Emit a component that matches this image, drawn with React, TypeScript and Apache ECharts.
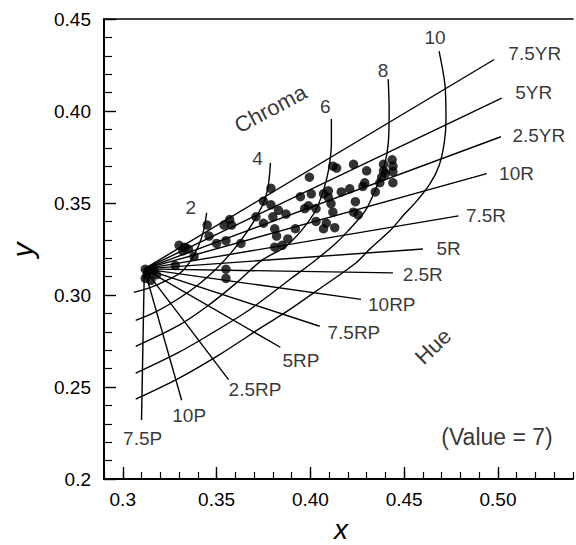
import React, { useEffect, useRef } from "react";
import * as echarts from "echarts";

const FONT = '"Liberation Sans", Arial, Helvetica, sans-serif';

// neutral (achromatic) point
const neutral: [number, number] = [0.3115, 0.3142];

// hue lines: name, outer end, label position
const hueNames = ["7.5YR", "5YR", "2.5YR", "10R", "7.5R", "5R", "2.5R", "10RP", "7.5RP", "5RP", "2.5RP", "10P", "7.5P"];
const hueEnds: [number, number][] = [
  [0.498, 0.428], [0.502, 0.407], [0.5016, 0.386], [0.494, 0.366], [0.479, 0.343],
  [0.46, 0.325], [0.444, 0.312], [0.427, 0.2976], [0.405, 0.283], [0.384, 0.2716],
  [0.3564, 0.254], [0.3314, 0.2428], [0.31, 0.232],
];
const hueLabelPos: [number, number][] = [
  [0.5196, 0.431], [0.5191, 0.4099], [0.5218, 0.3866], [0.5099, 0.3659], [0.4936, 0.3432],
  [0.4737, 0.3253], [0.4599, 0.3112], [0.4434, 0.2949], [0.4232, 0.2797], [0.395, 0.2645],
  [0.3705, 0.2488], [0.3354, 0.2347], [0.3106, 0.2222],
];

// chroma curves
const chromaNames = ["2", "4", "6", "8", "10"];
const chroma2: [number, number][] = [
  [0.3447, 0.3447], [0.3431, 0.335], [0.3404, 0.3268], [0.3362, 0.3187], [0.3309, 0.3122],
  [0.3234, 0.3079], [0.3149, 0.3041], [0.3059, 0.3014],
];
const chroma4: [number, number][] = [
  [0.3787, 0.3718], [0.3777, 0.3604], [0.3755, 0.3512], [0.3707, 0.3415], [0.3644, 0.3317],
  [0.3574, 0.3225], [0.35, 0.3144], [0.3404, 0.3057], [0.3298, 0.2981], [0.3181, 0.2911],
  [0.3069, 0.2862],
];
const chroma6: [number, number][] = [
  [0.4112, 0.3957], [0.4112, 0.3821], [0.4096, 0.3675], [0.4069, 0.3566], [0.4027, 0.3458],
  [0.3952, 0.335], [0.3867, 0.3263], [0.3739, 0.3187], [0.3601, 0.3062], [0.3441, 0.2932],
  [0.3298, 0.2835], [0.3069, 0.2721],
];
const chroma8: [number, number][] = [
  [0.4415, 0.4173], [0.442, 0.4], [0.4415, 0.3821], [0.4394, 0.3702], [0.4351, 0.3583],
  [0.4293, 0.3458], [0.4202, 0.335], [0.4133, 0.3279], [0.4005, 0.3171], [0.3883, 0.3079],
  [0.3793, 0.3008], [0.3654, 0.2905], [0.3473, 0.2791], [0.3298, 0.2688], [0.3069, 0.2575],
];
const chroma10: [number, number][] = [
  [0.4686, 0.4325], [0.4718, 0.4135], [0.4723, 0.3946], [0.4713, 0.3821], [0.4686, 0.3703],
  [0.4638, 0.3605], [0.4569, 0.3513], [0.4495, 0.3432], [0.4431, 0.3356], [0.4319, 0.3252],
  [0.4239, 0.3171], [0.4059, 0.3041], [0.3883, 0.2916], [0.3739, 0.2824], [0.3527, 0.2683],
  [0.3298, 0.2547], [0.3069, 0.2434],
];
const chromaCurves = [chroma2, chroma4, chroma6, chroma8, chroma10];
const chromaLabelPos: [number, number][] = [
  [0.3362, 0.3475], [0.3718, 0.3741], [0.408, 0.4023], [0.4388, 0.4218], [0.4665, 0.4397],
];

// measured samples
const samples: [number, number][] = [
  [0.312, 0.314], [0.314, 0.313], [0.313, 0.311], [0.3165, 0.3133], [0.312, 0.309], [0.315, 0.308], [0.318, 0.311],
  [0.33, 0.327], [0.333, 0.326], [0.332, 0.324], [0.335, 0.325], [0.338, 0.321], [0.328, 0.316],
  [0.345, 0.338], [0.346, 0.332], [0.354, 0.338], [0.357, 0.341], [0.358, 0.338], [0.35, 0.328],
  [0.355, 0.3295], [0.363, 0.328], [0.355, 0.314], [0.355, 0.309],
  [0.379, 0.358], [0.375, 0.351], [0.379, 0.349], [0.383, 0.346], [0.387, 0.344], [0.371, 0.3425],
  [0.38, 0.3425], [0.375, 0.339], [0.381, 0.336], [0.382, 0.332], [0.388, 0.3305], [0.392, 0.336],
  [0.381, 0.326], [0.385, 0.327],
  [0.3995, 0.364], [0.412, 0.37], [0.414, 0.369], [0.423, 0.371], [0.43, 0.3675], [0.429, 0.361],
  [0.428, 0.359], [0.3947, 0.3534], [0.4005, 0.355], [0.399, 0.3485], [0.403, 0.347], [0.397, 0.347],
  [0.403, 0.34], [0.4085, 0.339], [0.407, 0.336], [0.413, 0.3366], [0.4096, 0.3566], [0.407, 0.355],
  [0.4096, 0.353], [0.411, 0.3496], [0.412, 0.345], [0.4165, 0.356], [0.421, 0.3577], [0.424, 0.3507],
  [0.423, 0.345], [0.4255, 0.3436],
  [0.439, 0.371], [0.4436, 0.3735], [0.444, 0.37], [0.439, 0.3675], [0.44, 0.366], [0.444, 0.367],
  [0.438, 0.364], [0.437, 0.361], [0.444, 0.361], [0.4346, 0.356],
];

// annotations
const annotations = [
  { text: "Chroma", pos: [0.3787, 0.4012], rotate: 28, size: 22 },
  { text: "Hue", pos: [0.4654, 0.2721], rotate: 44, size: 22 },
  { text: "(Value = 7)", pos: [0.4995, 0.2228], rotate: 0, size: 23 },
];

const xMajorLabels: Record<number, string> = { 30: "0.3", 35: "0.35", 40: "0.40", 45: "0.45", 50: "0.50" };
const xMajorTicks = [0.3, 0.35, 0.4, 0.45, 0.5];

export default function App() {
  const ref = useRef<HTMLDivElement>(null);
  useEffect(() => {
    const chart = echarts.init(ref.current!, null, { renderer: "svg" });
    const black = "#000";
    const lineStyle = { color: black, width: 1.4 };
    const series: any[] = [];
    hueEnds.forEach((end, i) => {
      series.push({
        type: "line", name: hueNames[i], data: [neutral, end], symbol: "none",
        lineStyle, silent: true, z: 2,
      });
    });
    chromaCurves.forEach((c, i) => {
      series.push({
        type: "line", name: "C" + chromaNames[i], data: c, symbol: "none", smooth: 0.3,
        lineStyle, silent: true, z: 2,
      });
    });
    series.push({
      type: "scatter", name: "samples", data: samples, symbol: "circle", symbolSize: 9.5,
      itemStyle: { color: black }, silent: true, z: 3,
    });
    const labelSeries = (data: any[], fontSize: number) => ({
      type: "scatter", data, symbolSize: 0, silent: true, z: 4,
      label: {
        show: true, position: "inside", formatter: (p: any) => p.data.name,
        color: black, fontFamily: FONT, fontSize,
      },
    });
    series.push(labelSeries(hueNames.map((n, i) => ({ name: n, value: hueLabelPos[i] })), 19));
    series.push(labelSeries(chromaNames.map((n, i) => ({ name: n, value: chromaLabelPos[i] })), 19));
    annotations.forEach((a) => {
      series.push({
        type: "scatter", data: [{ name: a.text, value: a.pos }], symbolSize: 0, silent: true, z: 4,
        label: {
          show: true, position: "inside", formatter: a.text, rotate: a.rotate,
          color: black, fontFamily: FONT, fontSize: a.size,
        },
      });
    });

    chart.setOption({
      animation: false,
      backgroundColor: "#fff",
      grid: { left: 104, right: 0, top: 19, bottom: 66, show: false },
      xAxis: [
        {
          type: "value", min: 0.29, max: 0.54, interval: 0.01, position: "bottom",
          axisLine: { show: true, onZero: false, lineStyle: { color: black, width: 2 } },
          axisTick: { show: true, inside: true, length: 7, lineStyle: { color: black, width: 1.2 } },
          axisLabel: {
            show: true, margin: 11, color: black, fontFamily: FONT, fontSize: 19,
            formatter: (v: number) => xMajorLabels[Math.round(v * 100)] ?? "",
          },
          splitLine: { show: false },
        },
        {
          type: "value", min: 0.29, max: 0.54, position: "bottom",
          axisLine: { show: false },
          axisTick: { show: true, inside: true, length: 12, customValues: xMajorTicks, lineStyle: { color: black, width: 1.4 } },
          axisLabel: { show: false },
          splitLine: { show: false },
        },
        {
          type: "value", min: 0.29, max: 0.54, position: "top",
          axisLine: { show: true, onZero: false, lineStyle: { color: black, width: 1.6 } },
          axisTick: { show: false }, axisLabel: { show: false }, splitLine: { show: false },
        },
      ],
      yAxis: [
        {
          type: "value", min: 0.2, max: 0.45, interval: 0.05,
          axisLine: { show: true, onZero: false, lineStyle: { color: black, width: 2 } },
          axisTick: { show: true, inside: true, length: 12, lineStyle: { color: black, width: 1.4 } },
          minorTick: { show: true, splitNumber: 5, length: 8, lineStyle: { color: black, width: 1.2 } },
          axisLabel: {
            show: true, margin: 13, color: black, fontFamily: FONT, fontSize: 19,
            formatter: (v: number) => (Math.abs(v - 0.2) < 1e-9 ? "0.2" : v.toFixed(2)),
          },
          splitLine: { show: false },
          minorSplitLine: { show: false },
        },
      ],
      graphic: [
        {
          type: "text", x: 22, y: 250, rotation: Math.PI / 2,
          style: { text: "y", fontFamily: FONT, fontStyle: "italic", fontSize: 30, fill: black, align: "center", verticalAlign: "middle" },
        },
        {
          type: "text", x: 341, y: 529,
          style: { text: "x", fontFamily: FONT, fontStyle: "italic", fontSize: 28, fill: black, align: "center", verticalAlign: "middle" },
        },
      ],
      series,
    });
    return () => chart.dispose();
  }, []);
  return <div ref={ref} style={{ position: "fixed", left: 0, top: 0, width: 576, height: 545, background: "#fff" }} />;
}
